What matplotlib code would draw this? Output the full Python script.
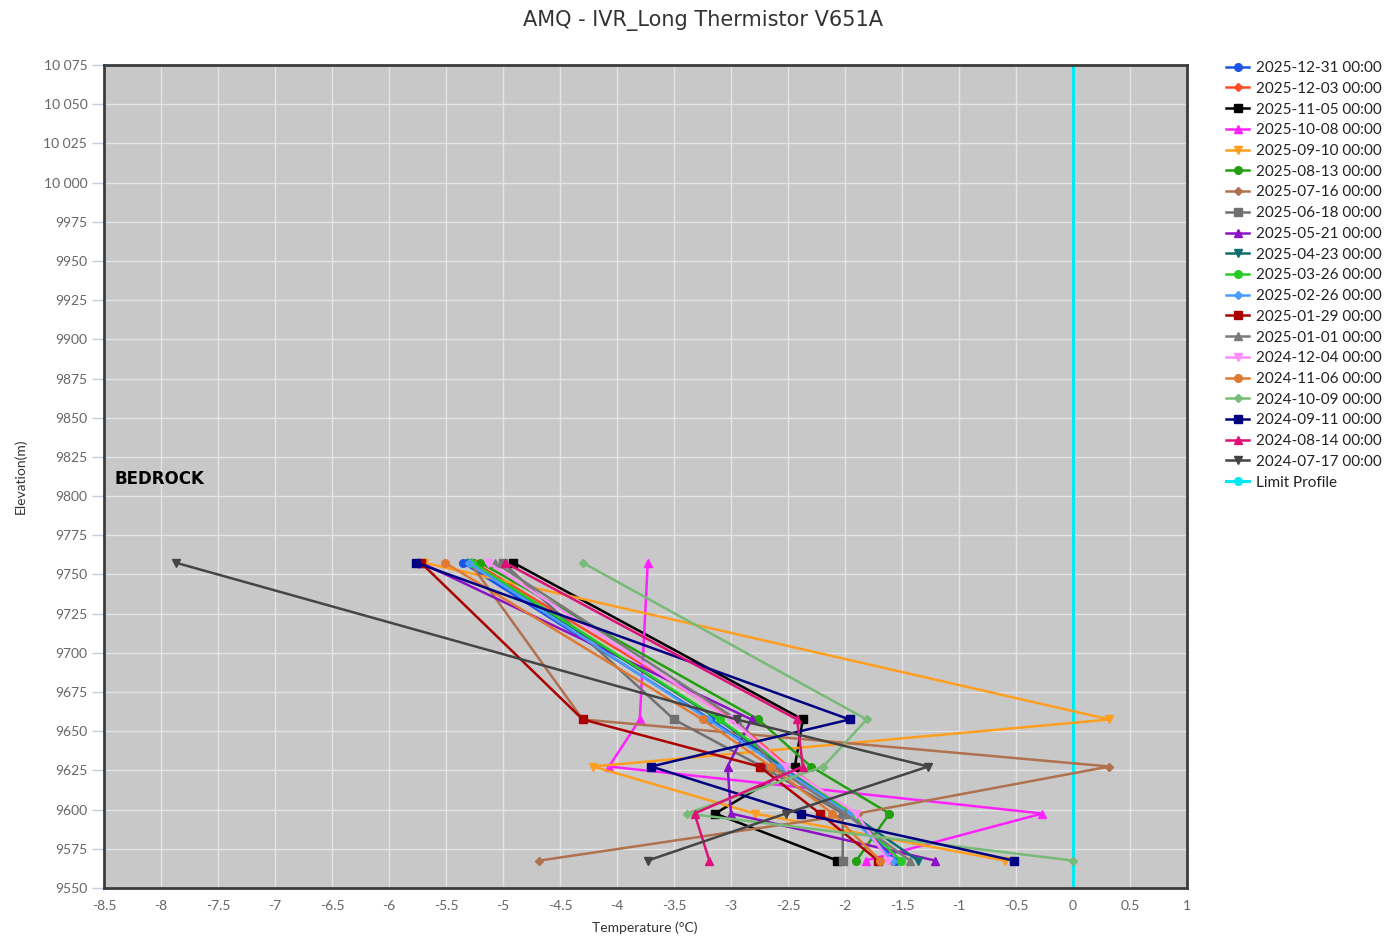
import matplotlib
matplotlib.use("Agg")
import matplotlib.pyplot as plt
from matplotlib.ticker import FuncFormatter, MultipleLocator

# elevation of each thermistor bead (m)
elevations = [9757.5, 9657.5, 9627.5, 9597.5, 9567.5]

labels = [
    "2025-12-31 00:00", "2025-12-03 00:00", "2025-11-05 00:00", "2025-10-08 00:00",
    "2025-09-10 00:00", "2025-08-13 00:00", "2025-07-16 00:00", "2025-06-18 00:00",
    "2025-05-21 00:00", "2025-04-23 00:00", "2025-03-26 00:00", "2025-02-26 00:00",
    "2025-01-29 00:00", "2025-01-01 00:00", "2024-12-04 00:00", "2024-11-06 00:00",
    "2024-10-09 00:00", "2024-09-11 00:00", "2024-08-14 00:00", "2024-07-17 00:00",
]

# temperature (degC) at each elevation, top to bottom
temps = [
    [-5.35, -3.18, -2.56, -1.96, -1.55],
    [-5.25, -2.98, -2.50, -1.93, -1.59],
    [-4.91, -2.37, -2.44, -3.14, -2.07],
    [-3.73, -3.80, -4.07, -0.27, -1.82],
    [-5.69, 0.32, -4.21, -2.79, -0.60],
    [-5.20, -2.76, -2.30, -1.61, -1.90],
    [-5.29, -4.30, 0.32, -1.89, -4.68],
    [-5.00, -3.50, -2.73, -2.02, -2.02],
    [-5.72, -2.82, -3.03, -3.00, -1.21],
    [-5.29, -3.11, -2.55, -1.95, -1.36],
    [-5.27, -3.10, -2.52, -1.94, -1.51],
    [-5.30, -3.20, -2.58, -1.97, -1.58],
    [-5.72, -4.30, -2.75, -2.22, -1.71],
    [-5.07, -2.95, -2.62, -2.00, -1.43],
    [-5.13, -3.00, -2.52, -1.90, -1.62],
    [-5.51, -3.25, -2.65, -2.11, -1.69],
    [-4.30, -1.81, -2.19, -3.39, 0.00],
    [-5.76, -1.96, -3.70, -2.39, -0.52],
    [-4.98, -2.42, -2.37, -3.32, -3.19],
    [-7.87, -2.95, -1.27, -2.52, -3.73],
]

colors = [
    "#1a55e6", "#ff4a26", "#000000", "#ff22ff", "#ff9e1f",
    "#22a010", "#b0714e", "#707070", "#8c12c4", "#0e6d70",
    "#26cc26", "#4a9cff", "#aa0000", "#7a7a7a", "#ff8cff",
    "#e07a32", "#78bb78", "#000080", "#dd1177", "#454545",
]
marker_cycle = ["o", "D", "s", "^", "v"]

limit_temp = [0, 0]
limit_elev = [9500, 10100]

fig = plt.figure(figsize=(13.85, 9.39), dpi=100)
ax = fig.add_axes([104 / 1385, 1 - 888 / 939, (1187 - 104) / 1385, (888 - 65) / 939])
ax.set_facecolor("#c8c8c8")

handles = []
for i, (lab, t) in enumerate(zip(labels, temps)):
    m = marker_cycle[i % 5]
    ms = 4 if m == "D" else 5.5
    h, = ax.plot(t, elevations, color=colors[i], lw=1.8, marker=m, ms=ms,
                 label=lab, zorder=3)
    handles.append(h)

h, = ax.plot(limit_temp, limit_elev, color="#00e8f0", lw=2.2, marker="o", ms=5.5,
             label="Limit Profile", zorder=2)
handles.append(h)

ax.set_xlim(-8.5, 1)
ax.set_ylim(9550, 10075)
ax.xaxis.set_major_locator(MultipleLocator(0.5))
ax.yaxis.set_major_locator(MultipleLocator(25))
ax.grid(True, color="#e4e4e4", lw=1, zorder=0)
ax.set_axisbelow(True)


def fmt_x(v, pos):
    return "%g" % round(v, 2)


def fmt_y(v, pos):
    n = int(round(v))
    if n >= 10000:
        return "{:,}".format(n).replace(",", " ")
    return str(n)


ax.xaxis.set_major_formatter(FuncFormatter(fmt_x))
ax.yaxis.set_major_formatter(FuncFormatter(fmt_y))

tick_font = ["Lato", "DejaVu Sans"]
for lbl in ax.get_xticklabels() + ax.get_yticklabels():
    lbl.set_family(tick_font)
ax.tick_params(axis="x", length=0, pad=9, labelsize=10, labelcolor="#666666")
ax.tick_params(axis="y", length=9, width=1, color="#c0d0e0", pad=3,
               labelsize=10, labelcolor="#666666")

for sp in ax.spines.values():
    sp.set_color("#3c3c3c")
    sp.set_linewidth(2)

ax.set_xlabel("Temperature (°C)", fontsize=10, color="#333333", family=tick_font)
ax.xaxis.set_label_coords((645 - 104) / 1083, -(921 - 888) / 823)
ax.set_ylabel("Elevation(m)", fontsize=10, color="#333333", family=tick_font)
ax.yaxis.set_label_coords(-(104 - 27) / 1083, 0.5)

ax.text(-8.41, 9811, "BEDROCK", fontsize=12, fontweight="bold", va="center",
        ha="left", color="#000000", family="DejaVu Sans")

fig.suptitle("AMQ - IVR_Long Thermistor V651A", x=703 / 1385, y=1 - 10 / 939,
             va="top", fontsize=15, color="#333333", family="DejaVu Sans")

fig.legend(handles=handles, loc="upper left", bbox_to_anchor=(1220 / 1385, 1 - 55 / 939),
           frameon=False, prop={"family": "Lato", "size": 11}, labelspacing=0.44,
           handlelength=1.5, handletextpad=0.45, borderaxespad=0, labelcolor="#222222")

fig.savefig("out.png", dpi=100)
